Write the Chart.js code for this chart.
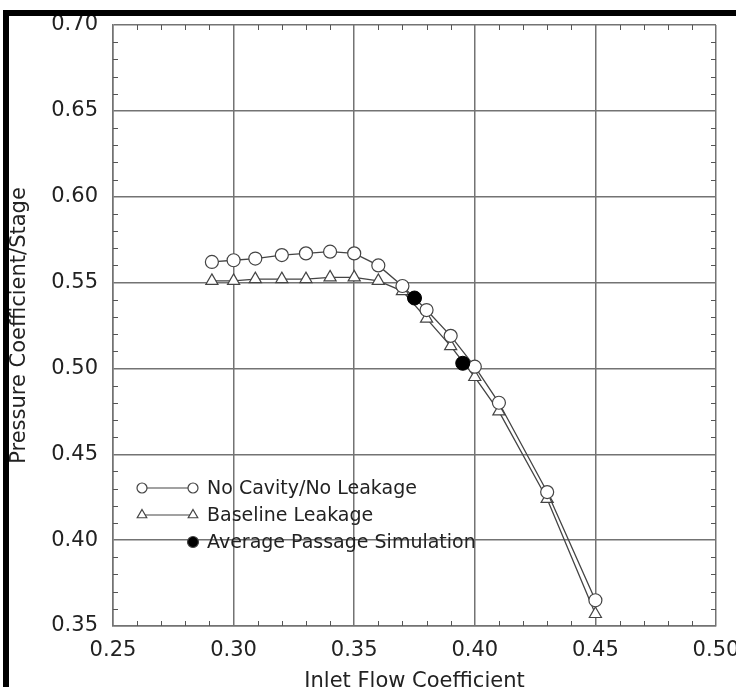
<!DOCTYPE html>
<html>
<head>
<meta charset="utf-8">
<script src="https://cdn.jsdelivr.net/npm/chart.js@4/dist/chart.umd.min.js"></script>
<style>
  html, body { margin: 0; padding: 0; background: #fff; overflow: hidden; }
  #wrap { position: relative; width: 736px; height: 687px; overflow: hidden; }
  #stage { position: absolute; left: 0; top: 0; }
  .bar { position: absolute; background: #000; }
</style>
</head>
<body>
<div id="wrap">
  <canvas id="stage" width="736" height="693"></canvas>
  <div class="bar" style="left:3px; top:10px; width:733px; height:6px;"></div>
  <div class="bar" style="left:3px; top:10px; width:6px; height:677px;"></div>
</div>
<script>
// flow coefficient stations
var flow = [0.291, 0.30, 0.309, 0.32, 0.33, 0.34, 0.35, 0.36, 0.37, 0.38, 0.39, 0.40, 0.41, 0.43, 0.45];
// pressure coefficient per stage
var noCavity = [0.562, 0.563, 0.564, 0.566, 0.567, 0.568, 0.567, 0.560, 0.548, 0.534, 0.519, 0.501, 0.480, 0.428, 0.365];
var baseline = [0.551, 0.551, 0.552, 0.552, 0.552, 0.553, 0.553, 0.551, 0.545, 0.529, 0.513, 0.495, 0.475, 0.424, 0.357];
// average passage runs
var avgFlow = [0.375, 0.395];
var avgPsi = [0.541, 0.503];

var xTicks = [0.25, 0.30, 0.35, 0.40, 0.45, 0.50];
var yTicks = [0.35, 0.40, 0.45, 0.50, 0.55, 0.60, 0.65, 0.70];

var labels = ['No Cavity/No Leakage', 'Baseline Leakage', 'Average Passage Simulation'];

function pts(xs, ys) {
	var out = [];
	for (var i = 0; i < xs.length; i++) out.push({ x: xs[i], y: ys[i] });
	return out;
}

var FONT = "'DejaVu Sans', sans-serif";
var INK = '#222';
var GRID = '#737373';

// minor ticks on all four sides, pointing inward
var minorTicks = {
	id: 'minorTicks',
	afterDraw: function (chart) {
		var ctx = chart.ctx, a = chart.chartArea;
		var xs = chart.scales.x, ys = chart.scales.y;
		ctx.save();
		ctx.strokeStyle = '#555';
		ctx.lineWidth = 1;
		ctx.beginPath();
		for (var i = 25; i <= 50; i++) {
			if (i % 5 === 0) continue;
			var px = Math.round(xs.getPixelForValue(i / 100)) + 0.5;
			ctx.moveTo(px, a.bottom); ctx.lineTo(px, a.bottom - 5);
			ctx.moveTo(px, a.top); ctx.lineTo(px, a.top + 5);
		}
		for (var j = 35; j <= 70; j++) {
			if (j % 5 === 0) continue;
			var py = Math.round(ys.getPixelForValue(j / 100)) + 0.5;
			ctx.moveTo(a.left, py); ctx.lineTo(a.left + 5, py);
			ctx.moveTo(a.right, py); ctx.lineTo(a.right - 5, py);
		}
		ctx.stroke();
		ctx.restore();
	}
};

// legend drawn inside the plot, line with a marker at each end
var innerLegend = {
	id: 'innerLegend',
	afterDraw: function (chart) {
		var ctx = chart.ctx, a = chart.chartArea;
		var x0 = a.left + 29, x1 = a.left + 80, tx = a.left + 94;
		var rows = [a.top + 463, a.top + 490, a.top + 517];
		var styles = [
			{ pointStyle: 'circle', radius: 5, fill: '#fff', line: true },
			{ pointStyle: 'triangle', radius: 5.5, fill: '#fff', line: true },
			{ pointStyle: 'circle', radius: 5.5, fill: '#000', line: false }
		];
		ctx.save();
		for (var i = 0; i < labels.length; i++) {
			var s = styles[i], y = rows[i];
			ctx.strokeStyle = '#444';
			ctx.lineWidth = 1.2;
			if (s.line) {
				ctx.beginPath();
				ctx.moveTo(x0, y); ctx.lineTo(x1, y);
				ctx.stroke();
			}
			ctx.fillStyle = s.fill;
			var opt = { pointStyle: s.pointStyle, radius: s.radius, rotation: 0, borderWidth: 1.2 };
			if (s.line) Chart.helpers.drawPoint(ctx, opt, x0, y);
			Chart.helpers.drawPoint(ctx, opt, x1, y);
			ctx.fillStyle = INK;
			ctx.font = '19px ' + FONT;
			ctx.textAlign = 'left';
			ctx.textBaseline = 'middle';
			ctx.fillText(labels[i], tx, y + 1);
		}
		ctx.restore();
	}
};

var ctx = document.getElementById('stage').getContext('2d');
var chart = new Chart(ctx, {
	type: 'scatter',
	data: {
		datasets: [
			{
				label: labels[2],
				data: pts(avgFlow, avgPsi),
				showLine: false,
				pointStyle: 'circle',
				pointRadius: 7,
				pointBackgroundColor: '#000',
				pointBorderColor: '#000',
				order: 0
			},
			{
				label: labels[0],
				data: pts(flow, noCavity),
				showLine: true,
				borderColor: '#444',
				borderWidth: 1.3,
				pointStyle: 'circle',
				pointRadius: 6.5,
				pointBackgroundColor: '#fff',
				pointBorderColor: '#444',
				pointBorderWidth: 1.2,
				order: 1
			},
			{
				label: labels[1],
				data: pts(flow, baseline),
				showLine: true,
				borderColor: '#444',
				borderWidth: 1.3,
				pointStyle: 'triangle',
				pointRadius: 7,
				pointBackgroundColor: '#fff',
				pointBorderColor: '#444',
				pointBorderWidth: 1.2,
				order: 2
			}
		]
	},
	options: {
		responsive: false,
		animation: false,
		layout: { padding: { top: 25, right: 20, left: 0, bottom: 0 } },
		plugins: { legend: { display: false }, tooltip: { enabled: false } },
		scales: {
			x: {
				type: 'linear',
				min: 0.25,
				max: 0.50,
				afterBuildTicks: function (s) { s.ticks = xTicks.map(function (v) { return { value: v }; }); },
				afterFit: function (s) { s.height = 67; s.paddingLeft = 0; s.paddingRight = 0; },
				ticks: {
					padding: 12,
					color: INK,
					font: { family: FONT, size: 21 },
					callback: function (v) { return v.toFixed(2); }
				},
				grid: { color: GRID, lineWidth: 1.5, drawTicks: false },
				border: { color: GRID, width: 1.5 },
				title: {
					display: true,
					text: 'Inlet Flow Coefficient',
					color: INK,
					font: { family: FONT, size: 21 },
					padding: { top: 0, bottom: -1 }
				}
			},
			y: {
				type: 'linear',
				min: 0.35,
				max: 0.70,
				afterBuildTicks: function (s) { s.ticks = yTicks.map(function (v) { return { value: v }; }); },
				afterFit: function (s) { s.width = 113; s.paddingTop = 0; s.paddingBottom = 0; },
				ticks: {
					padding: 15,
					color: INK,
					font: { family: FONT, size: 21 },
					callback: function (v) { return v.toFixed(2); }
				},
				grid: { color: GRID, lineWidth: 1.5, drawTicks: false },
				border: { color: GRID, width: 1.5 },
				title: {
					display: true,
					text: 'Pressure Coefficient/Stage',
					color: INK,
					font: { family: FONT, size: 21 },
					padding: { top: 7, bottom: 0 }
				}
			}
		}
	},
	plugins: [minorTicks, innerLegend]
});
</script>
</body>
</html>
